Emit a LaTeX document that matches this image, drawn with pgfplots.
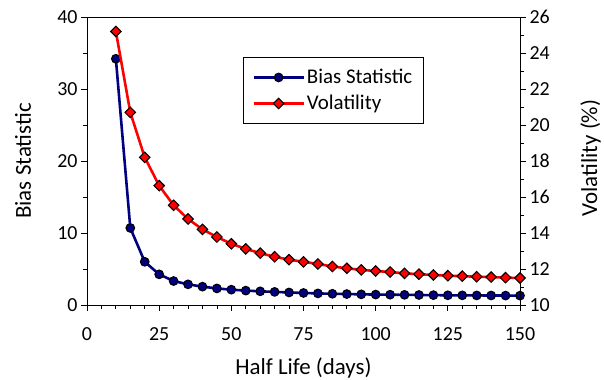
\documentclass[border=0pt]{standalone}
\usepackage{pgfplots}
\pgfplotsset{compat=1.18}
\usepackage{fontspec}
\setmainfont{Carlito}
\definecolor{navyb}{RGB}{0,0,128}
\definecolor{redv}{RGB}{255,0,0}
\pgfplotstableread{
x bias
10 34.2
15 10.7
20 6.0
25 4.26
30 3.33
35 2.87
40 2.55
45 2.30
50 2.13
55 2.00
60 1.90
65 1.82
70 1.74
75 1.67
80 1.61
85 1.56
90 1.52
95 1.48
100 1.45
105 1.43
110 1.41
115 1.39
120 1.37
125 1.35
130 1.34
135 1.33
140 1.32
145 1.31
150 1.30
}\biastab
\pgfplotstableread{
x vol
10 25.2
15 20.7
20 18.2
25 16.63
30 15.54
35 14.78
40 14.20
45 13.78
50 13.40
55 13.12
60 12.88
65 12.68
70 12.52
75 12.40
80 12.28
85 12.14
90 12.04
95 11.95
100 11.89
105 11.83
110 11.76
115 11.71
120 11.67
125 11.63
130 11.60
135 11.57
140 11.55
145 11.52
150 11.50
}\voltab
\begin{document}
\begin{tikzpicture}
\pgfplotsset{
  common/.style={
    scale only axis, width=433bp, height=288bp,
    at={(0,0)}, anchor=south west,
    xmin=0, xmax=150,
    tick align=outside,
    major tick length=6bp, minor tick length=4bp,
    every tick/.style={black, line width=0.8pt},
    axis line style={line width=0.9pt},
    /pgf/number format/assume math mode=true,
    tick label style={font=\fontsize{20}{24}\selectfont},
    label style={font=\fontsize{23}{27}\selectfont},
  }
}
\path[use as bounding box] (-87bp,-75bp) rectangle (517bp,305bp);
\begin{axis}[common,
  ymin=0, ymax=40,
  xtick={0,25,...,150}, minor xtick={0,5,...,150},
  ytick={0,10,...,40}, minor ytick={5,15,...,35},
  xtick pos=bottom, ytick pos=left,
  xticklabel style={yshift=-13bp},
  xlabel={Half Life (days)}, ylabel={Bias Statistic},
  xlabel style={at={(axis description cs:0.5,-0.218)}, anchor=center},
  ylabel style={at={(axis description cs:-0.148,0.5)}, anchor=center},
]
\addplot[color=navyb, line width=2.6pt, mark=*, mark size=4.3bp,
  mark options={fill=navyb, draw=black, line width=1.1pt}] table[x=x,y=bias]{\biastab};
\end{axis}
\begin{axis}[common,
  ymin=10, ymax=26,
  axis x line=none, axis y line*=right,
  ytick={10,12,...,26}, minor ytick={11,13,...,25},
  ylabel={Volatility (\%)},
  ylabel style={at={(axis description cs:1.163,0.51)}, anchor=center, rotate=0},
  legend style={at={(axis description cs:0.360,0.861)}, anchor=north west,
    draw=black, line width=0.9pt, font=\fontsize{21}{25}\selectfont,
    inner xsep=9bp, inner ysep=10bp, row sep=6bp},
  legend cell align=left,
  legend image code/.code={\draw[mark repeat=2,mark phase=2] plot coordinates {(0bp,0bp)(25bp,0bp)(50bp,0bp)};},
]
\addlegendimage{color=navyb, line width=2.6pt, mark=*, mark size=4.3bp,
  mark options={fill=navyb, draw=black, line width=1.1pt}}
\addlegendentry{Bias Statistic}
\addplot[color=redv, line width=2.6pt, mark=square*, mark size=3.7bp,
  mark options={fill=redv, draw=black, line width=1.1pt, rotate=45}] table[x=x,y=vol]{\voltab};
\addlegendentry{Volatility}
\end{axis}
\end{tikzpicture}
\end{document}
